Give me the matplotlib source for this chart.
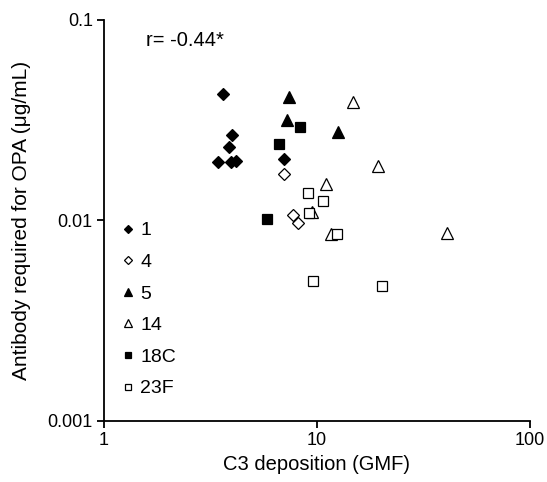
import numpy as np
import matplotlib.pyplot as plt
from matplotlib.ticker import FixedLocator, FixedFormatter, NullLocator

plt.rcParams['font.family'] = ['Liberation Sans', 'DejaVu Sans']

# serotype data: C3 deposition (GMF) vs antibody required for OPA (ug/mL)
s1_x = [3.62, 3.99, 3.86, 3.43, 3.95, 4.17, 7.0]
s1_y = [0.0428, 0.0267, 0.0233, 0.0196, 0.0196, 0.0198, 0.0203]
s4_x = [7.0, 7.71, 8.14]
s4_y = [0.0171, 0.01065, 0.00972]
s5_x = [7.39, 7.23, 12.55]
s5_y = [0.0413, 0.0317, 0.0276]
s14_x = [14.76, 19.33, 11.02, 9.47, 11.63, 40.8]
s14_y = [0.039, 0.0187, 0.0152, 0.01103, 0.00857, 0.00866]
s18c_x = [8.32, 6.63, 5.82]
s18c_y = [0.0292, 0.0241, 0.01017]
s23f_x = [9.07, 10.67, 9.17, 12.41, 9.58, 20.2]
s23f_y = [0.0137, 0.0125, 0.0109, 0.00857, 0.00499, 0.00471]

labels = ['1', '4', '5', '14', '18C', '23F']
xticks = [1, 10, 100]
yticks = [0.001, 0.01, 0.1]
r_text = 'r= -0.44*'

fig = plt.figure(figsize=(5.47, 4.82), dpi=100)
ax = fig.add_axes([0.190, 0.1266, 0.779, 0.832])

series = [
    (s1_x, s1_y, 'D', 'black', 6.5),
    (s4_x, s4_y, 'D', 'white', 6.5),
    (s5_x, s5_y, '^', 'black', 8.5),
    (s14_x, s14_y, '^', 'white', 8.5),
    (s18c_x, s18c_y, 's', 'black', 7),
    (s23f_x, s23f_y, 's', 'white', 7),
]
for (xs, ys, m, fc, ms), lab in zip(series, labels):
    ax.plot(xs, ys, linestyle='none', marker=m, markersize=ms,
            markerfacecolor=fc, markeredgecolor='black', markeredgewidth=0.9,
            label=lab)

ax.set_xscale('log')
ax.set_yscale('log')
ax.set_xlim(1, 100)
ax.set_ylim(0.001, 0.1)
ax.xaxis.set_major_locator(FixedLocator(xticks))
ax.xaxis.set_major_formatter(FixedFormatter([str(v) for v in xticks]))
ax.yaxis.set_major_locator(FixedLocator(yticks))
ax.yaxis.set_major_formatter(FixedFormatter([str(v) for v in yticks]))
ax.xaxis.set_minor_locator(NullLocator())
ax.yaxis.set_minor_locator(NullLocator())

for s in ['top', 'right']:
    ax.spines[s].set_visible(False)
for s in ['left', 'bottom']:
    ax.spines[s].set_linewidth(1.3)
ax.tick_params(direction='out', length=5, width=1.3, labelsize=13, pad=3)

ax.set_xlabel('C3 deposition (GMF)', fontsize=14.5, labelpad=4)
ax.set_ylabel('Antibody required for OPA (μg/mL)', fontsize=15, labelpad=12)

ax.text(0.098, 0.935, r_text, transform=ax.transAxes, fontsize=14.5)

ax.legend(loc='upper left', bbox_to_anchor=(0.015, 0.526), frameon=False,
          markerscale=0.65, handlelength=0.6, handletextpad=0.35,
          labelspacing=0.72, fontsize=14, borderaxespad=0.2)

fig.savefig('out.png', dpi=100)
